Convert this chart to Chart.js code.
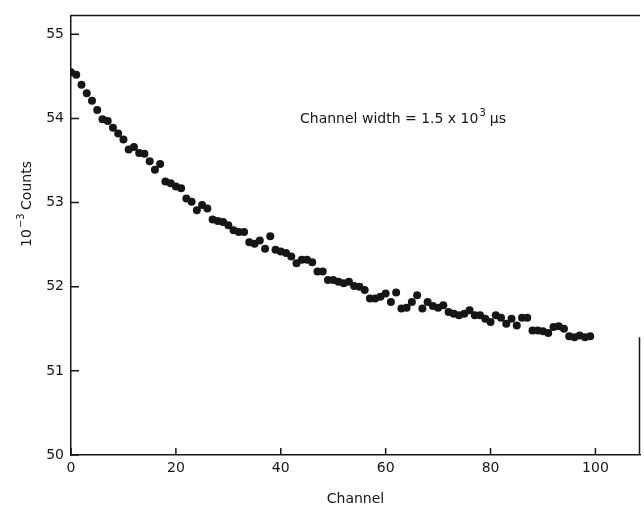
<!DOCTYPE html>
<html>
<head>
<meta charset="utf-8">
<script src="https://cdn.jsdelivr.net/npm/chart.js@4/dist/chart.umd.min.js"></script>
<style>
  html, body { margin: 0; padding: 0; background: #fff; }
  #wrap { width: 644px; height: 512px; position: relative; }
</style>
</head>
<body>
<div id="wrap"><canvas id="decayChart"></canvas></div>
<script>
  'use strict';

  // channel numbers
  var channels = [
    0, 1, 2, 3, 4, 5, 6, 7, 8, 9,
    10, 11, 12, 13, 14, 15, 16, 17, 18, 19,
    20, 21, 22, 23, 24, 25, 26, 27, 28, 29,
    30, 31, 32, 33, 34, 35, 36, 37, 38, 39,
    40, 41, 42, 43, 44, 45, 46, 47, 48, 49,
    50, 51, 52, 53, 54, 55, 56, 57, 58, 59,
    60, 61, 62, 63, 64, 65, 66, 67, 68, 69,
    70, 71, 72, 73, 74, 75, 76, 77, 78, 79,
    80, 81, 82, 83, 84, 85, 86, 87, 88, 89,
    90, 91, 92, 93, 94, 95, 96, 97, 98, 99
  ];

  // counts in units of 10^3
  var counts = [
    54.55, 54.52, 54.40, 54.30, 54.21, 54.10, 53.99, 53.97, 53.89, 53.82,
    53.75, 53.63, 53.66, 53.59, 53.58, 53.49, 53.39, 53.46, 53.25, 53.23,
    53.19, 53.17, 53.05, 53.01, 52.91, 52.97, 52.93, 52.80, 52.78, 52.77,
    52.73, 52.67, 52.65, 52.65, 52.53, 52.51, 52.55, 52.45, 52.60, 52.44,
    52.42, 52.40, 52.36, 52.28, 52.32, 52.32, 52.29, 52.18, 52.18, 52.08,
    52.08, 52.06, 52.04, 52.06, 52.01, 52.00, 51.96, 51.86, 51.86, 51.88,
    51.92, 51.82, 51.93, 51.74, 51.75, 51.82, 51.90, 51.74, 51.82, 51.77,
    51.75, 51.78, 51.70, 51.68, 51.66, 51.68, 51.72, 51.66, 51.66, 51.62,
    51.58, 51.66, 51.63, 51.56, 51.62, 51.54, 51.63, 51.63, 51.48, 51.48,
    51.47, 51.45, 51.52, 51.53, 51.50, 51.41, 51.40, 51.42, 51.40, 51.41
  ];

  var xTicks = [0, 20, 40, 60, 80, 100];
  var yTicks = [50, 51, 52, 53, 54, 55];

  var ink = '#161616';
  var fontFamily = '"DejaVu Sans", "Liberation Sans", sans-serif';

  var points = channels.map(function (c, i) {
    return { x: c, y: counts[i] };
  });

  // inward ticks, top rule, partial right rule and the text labels
  var figureExtras = {
    id: 'figureExtras',
    afterDraw: function (chart) {
      var c = chart.ctx;
      var area = chart.chartArea;
      var xs = chart.scales.x;
      var ys = chart.scales.y;
      c.save();
      c.strokeStyle = ink;
      c.lineWidth = 1.5;
      c.beginPath();
      xTicks.forEach(function (v) {
        var px = xs.getPixelForValue(v);
        c.moveTo(px, area.bottom);
        c.lineTo(px, area.bottom - 7);
      });
      yTicks.forEach(function (v) {
        var py = ys.getPixelForValue(v);
        c.moveTo(area.left, py);
        c.lineTo(area.left + 8, py);
      });
      // top frame
      c.moveTo(area.left, area.top);
      c.lineTo(area.right, area.top);
      // short right frame near the bottom
      c.moveTo(area.right - 0.5, ys.getPixelForValue(51.4));
      c.lineTo(area.right - 0.5, area.bottom);
      c.stroke();

      c.fillStyle = ink;
      c.font = '14px ' + fontFamily;
      c.textBaseline = 'alphabetic';
      c.textAlign = 'left';
      var tx = 300, ty = 123;
      var s1 = 'Channel width = 1.5 x 10';
      c.fillText(s1, tx, ty);
      var w1 = c.measureText(s1).width;
      c.font = '10px ' + fontFamily;
      c.fillText('3', tx + w1 + 1, ty - 7);
      c.font = '14px ' + fontFamily;
      c.fillText(' \u03bcs', tx + w1 + 7, ty);

      // y axis title
      c.translate(27, 204);
      c.rotate(-Math.PI / 2);
      c.textAlign = 'left';
      c.textBaseline = 'middle';
      var a = '10';
      var b = ' Counts';
      c.font = '14px ' + fontFamily;
      var wa = c.measureText(a).width;
      c.font = '10px ' + fontFamily;
      var wsup = c.measureText('\u22123').width;
      c.font = '14px ' + fontFamily;
      var wb = c.measureText(b).width;
      var start = -(wa + wsup + wb) / 2;
      c.fillText(a, start, 0);
      c.font = '10px ' + fontFamily;
      c.fillText('\u22123', start + wa + 1, -6);
      c.font = '14px ' + fontFamily;
      c.fillText(b, start + wa + wsup, 0);
      c.restore();
    }
  };

  var ctx = document.getElementById('decayChart');

  new Chart(ctx, {
    type: 'scatter',
    data: {
      datasets: [{
        label: 'Counts',
        data: points,
        backgroundColor: ink,
        borderColor: ink,
        pointRadius: 4,
        pointHoverRadius: 4,
        borderWidth: 0
      }]
    },
    options: {
      responsive: true,
      maintainAspectRatio: false,
      animation: false,
      layout: { padding: { top: 14, right: 1, left: 0, bottom: 0 } },
      plugins: {
        legend: { display: false },
        tooltip: { enabled: false }
      },
      scales: {
        x: {
          type: 'linear',
          min: 0,
          max: 108.5,
          afterBuildTicks: function (scale) {
            scale.ticks = xTicks.map(function (v) { return { value: v }; });
          },
          afterFit: function (scale) { scale.height = 57; },
          grid: { display: false, drawTicks: false },
          border: { display: true, color: ink, width: 1.5 },
          ticks: {
            color: ink,
            padding: 5,
            font: { family: fontFamily, size: 14 },
            maxRotation: 0
          },
          title: {
            display: true,
            text: 'Channel',
            color: ink,
            font: { family: fontFamily, size: 14 },
            padding: { top: 0, bottom: 4 }
          }
        },
        y: {
          min: 50,
          max: 55.225,
          afterBuildTicks: function (scale) {
            scale.ticks = yTicks.map(function (v) { return { value: v }; });
          },
          afterFit: function (scale) { scale.width = 71; },
          grid: { display: false, drawTicks: false },
          border: { display: true, color: ink, width: 1.5 },
          ticks: {
            color: ink,
            padding: 7,
            font: { family: fontFamily, size: 14 }
          }
        }
      }
    },
    plugins: [figureExtras]
  });
</script>
</body>
</html>
